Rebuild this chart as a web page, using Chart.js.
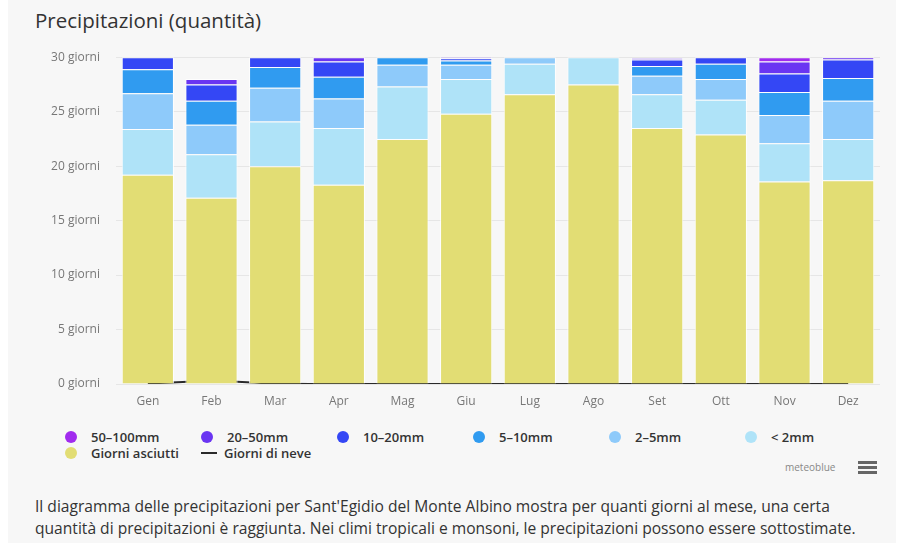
<!DOCTYPE html>
<html>
<head>
<meta charset="utf-8">
<script src="https://cdn.jsdelivr.net/npm/chart.js@4"></script>
<style>
  html, body { margin: 0; padding: 0; background: #fff; }
  body { width: 904px; height: 543px; position: relative; overflow: hidden; font-family: "Open Sans", sans-serif; }
  #panel { position: absolute; left: 8px; top: 0; width: 888px; height: 543px; background: #f7f7f7; }
  #title { position: absolute; left: 35px; top: 6px; font-size: 20.5px; color: #333; white-space: nowrap; }
  #chartBox { position: absolute; left: 8px; top: 34px; width: 888px; height: 378px; }
  #legend { position: absolute; left: 65px; top: 428px; width: 830px; }
  .legend-item { position: absolute; display: flex; align-items: center; font-size: 13px; font-weight: 600; color: #333; white-space: nowrap; }
  .dot { width: 12px; height: 12px; border-radius: 50%; margin-right: 14px; }
  .dash { width: 16px; height: 2px; margin-right: 7px; }
  #credit { position: absolute; left: 785px; top: 460px; font-size: 10px; color: #888; }
  #menu { position: absolute; left: 858px; top: 461px; width: 19px; }
  #menu div { height: 3px; background: #666; margin-bottom: 2px; }
  #caption { position: absolute; left: 35px; top: 495px; font-size: 15.6px; line-height: 22px; color: #333; white-space: nowrap; }
</style>
</head>
<body>
<div id="panel"></div>
<div id="title">Precipitazioni (quantità)</div>
<div id="chartBox"><canvas id="precipChart"></canvas></div>
<div id="legend"></div>
<div id="credit">meteoblue</div>
<div id="menu"><div></div><div></div><div></div></div>
<div id="caption">Il diagramma delle precipitazioni per Sant'Egidio del Monte Albino mostra per quanti giorni al mese, una certa<br>quantità di precipitazioni è raggiunta. Nei climi tropicali e monsoni, le precipitazioni possono essere sottostimate.</div>

<script>
const months = ["Gen", "Feb", "Mar", "Apr", "Mag", "Giu", "Lug", "Ago", "Set", "Ott", "Nov", "Dez"];
const yTicks = [0, 5, 10, 15, 20, 25, 30];

// giorni al mese per classe di precipitazione
const dryDays = [19.2, 17.1, 20.0, 18.3, 22.5, 24.8, 26.6, 27.5, 23.5, 22.9, 18.6, 18.7];
const under2mm = [4.2, 4.0, 4.1, 5.2, 4.8, 3.2, 2.8, 2.5, 3.1, 3.2, 3.5, 3.8];
const mm2to5 = [3.3, 2.7, 3.1, 2.7, 2.0, 1.3, 0.6, 0, 1.7, 1.9, 2.6, 3.5];
const mm5to10 = [2.2, 2.2, 1.9, 2.0, 0.7, 0.4, 0, 0, 0.9, 1.4, 2.1, 2.1];
const mm10to20 = [1.1, 1.5, 0.9, 1.4, 0, 0.2, 0, 0, 0.6, 0.6, 1.7, 1.7];
const mm20to50 = [0, 0.5, 0, 0.4, 0, 0.1, 0, 0, 0.1, 0, 1.1, 0.2];
const mm50to100 = [0, 0, 0, 0, 0, 0, 0, 0, 0, 0, 0.4, 0];
const snowDays = [0.05, 0.25, 0.05, 0, 0, 0, 0, 0, 0, 0, 0, 0];

const barSeries = [
  { label: "Giorni asciutti", data: dryDays, color: "#e2dd74" },
  { label: "< 2mm", data: under2mm, color: "#afe3f8" },
  { label: "2-5mm", data: mm2to5, color: "#8ecafa" },
  { label: "5-10mm", data: mm5to10, color: "#309bf0" },
  { label: "10-20mm", data: mm10to20, color: "#3447f5" },
  { label: "20-50mm", data: mm20to50, color: "#6a35f2" },
  { label: "50-100mm", data: mm50to100, color: "#a12bee" }
];

const datasets = barSeries.map(s => ({
  type: "bar",
  label: s.label,
  data: s.data,
  backgroundColor: s.color,
  borderColor: "rgba(255,255,255,0.85)",
  borderWidth: 1,
  borderSkipped: "bottom",
  categoryPercentage: 0.82,
  barPercentage: 1
}));

datasets.push({
  type: "line",
  label: "Giorni di neve",
  data: snowDays,
  stack: "snow",
  borderColor: "#2a2a2a",
  borderWidth: 2,
  pointRadius: 0,
  tension: 0.4,
  fill: false
});

// legenda in HTML, due righe come nell'originale
const legendOrder = [
  { label: "50–100mm", color: "#a12bee" },
  { label: "20–50mm", color: "#6a35f2" },
  { label: "10–20mm", color: "#3447f5" },
  { label: "5–10mm", color: "#309bf0" },
  { label: "2–5mm", color: "#8ecafa" },
  { label: "< 2mm", color: "#afe3f8" },
  { label: "Giorni asciutti", color: "#e2dd74" },
  { label: "Giorni di neve", color: "#2a2a2a", line: true }
];
const legend = document.getElementById("legend");
legend.innerHTML = legendOrder.map((item, i) => {
  const col = i < 6 ? i : i - 6;
  const row = i < 6 ? 0 : 1;
  const mark = item.line
    ? `<span class="dash" style="background:${item.color}"></span>`
    : `<span class="dot" style="background:${item.color}"></span>`;
  return `<div class="legend-item" style="left:${col * 136}px;top:${row * 16}px">${mark}${item.label}</div>`;
}).join("");

new Chart(document.getElementById("precipChart"), {
  data: { labels: months, datasets },
  options: {
    responsive: true,
    maintainAspectRatio: false,
    animation: false,
    layout: { padding: { top: 0, right: 16, left: 0, bottom: 0 } },
    plugins: { legend: { display: false }, tooltip: { enabled: false } },
    scales: {
      x: {
        stacked: true,
        grid: { display: false },
        border: { display: false },
        ticks: { color: "#777", font: { family: "Open Sans", size: 12 }, padding: 2 },
        afterFit: scale => { scale.height = 28; }
      },
      y: {
        stacked: true,
        min: 0,
        max: 30,
        afterBuildTicks: scale => { scale.ticks = yTicks.map(v => ({ value: v })); },
        grid: { color: "#e6e6e6", drawTicks: false },
        border: { display: false },
        ticks: {
          color: "#777",
          font: { family: "Open Sans", size: 12 },
          padding: 16,
          callback: v => v + " giorni"
        },
        afterFit: scale => { scale.width = 108; }
      }
    }
  }
});
</script>
</body>
</html>
